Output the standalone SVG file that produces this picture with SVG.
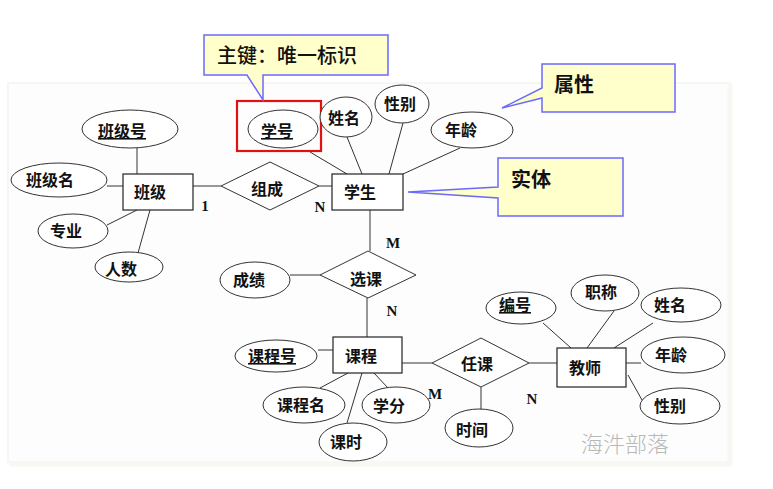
<svg xmlns="http://www.w3.org/2000/svg" width="773" height="489" viewBox="0 0 773 489">
<style>
.bg{fill:#ffffff}
.ent{fill:#ffffff;stroke:#222;stroke-width:1.2}
.att{fill:#ffffff;stroke:#333;stroke-width:1}
.rel{fill:#ffffff;stroke:#333;stroke-width:1}
.ln{stroke:#333;stroke-width:1;fill:none}
.t{font-family:"Noto Sans CJK SC","Noto Sans",sans-serif;font-weight:bold;font-size:16px;fill:#111;text-anchor:middle}
.u{text-decoration:underline}
.card{font-family:"Liberation Serif",serif;font-weight:bold;font-size:15px;fill:#111;text-anchor:middle}
.call{fill:#ffffcc;stroke:#6a6aff;stroke-width:1.5}
.ct{font-family:"Noto Sans CJK SC",sans-serif;font-size:20px;font-weight:500;fill:#111}
.ctb{font-family:"Noto Sans CJK SC",sans-serif;font-size:20px;font-weight:bold;fill:#111}
.wm{font-family:"Noto Sans CJK SC",sans-serif;font-weight:300;font-size:22px;fill:#b8b8b8;text-anchor:middle}
</style>
<rect class="bg" x="0" y="0" width="773" height="489"/>
<rect x="8" y="83" width="722" height="379" fill="#fdfdfd" stroke="#f4f4f0" stroke-width="1.5"/>
<path d="M730 84 V464 H9" fill="none" stroke="#f8f8f3" stroke-width="5"/>

<g id="connectors">
<line class="ln" x1="137" y1="148" x2="137" y2="174"/>
<line class="ln" x1="107" y1="186" x2="123" y2="186"/>
<line class="ln" x1="107" y1="225" x2="137" y2="210"/>
<line class="ln" x1="150" y1="210" x2="138" y2="253"/>
<line class="ln" x1="193" y1="186" x2="221" y2="186"/>
<line class="ln" x1="319" y1="186" x2="332" y2="186"/>
<line class="ln" x1="310" y1="152" x2="347" y2="174"/>
<line class="ln" x1="347" y1="137" x2="362" y2="174"/>
<line class="ln" x1="403" y1="123" x2="389" y2="174"/>
<line class="ln" x1="460" y1="148" x2="403" y2="174"/>
<line class="ln" x1="370" y1="210" x2="370" y2="251"/>
<line class="ln" x1="290" y1="275" x2="320" y2="275"/>
<line class="ln" x1="367" y1="298" x2="367" y2="337"/>
<line class="ln" x1="318" y1="350" x2="333" y2="350"/>
<line class="ln" x1="320" y1="388" x2="348" y2="373"/>
<line class="ln" x1="347" y1="423" x2="362" y2="373"/>
<line class="ln" x1="388" y1="388" x2="374" y2="373"/>
<line class="ln" x1="402" y1="363" x2="432" y2="363"/>
<line class="ln" x1="529" y1="363" x2="557" y2="363"/>
<line class="ln" x1="481" y1="387" x2="481" y2="410"/>
<line class="ln" x1="543" y1="323" x2="571" y2="348"/>
<line class="ln" x1="614" y1="311" x2="587" y2="348"/>
<line class="ln" x1="653" y1="323" x2="614" y2="348"/>
<line class="ln" x1="626" y1="363" x2="641" y2="363"/>
<line class="ln" x1="628" y1="375" x2="642" y2="400"/>
</g>

<g id="class">
<rect class="ent" x="123" y="174" width="70" height="36"/>
<text class="t" x="150" y="198">班级</text>
</g>
<g id="class-no">
<ellipse class="att" cx="130" cy="129" rx="48" ry="19"/>
<text class="t u" x="122" y="137">班级号</text>
</g>
<g id="class-name">
<ellipse class="att" cx="59" cy="180" rx="48" ry="17"/>
<text class="t" x="50" y="186">班级名</text>
</g>
<g id="major">
<ellipse class="att" cx="73" cy="231" rx="35" ry="17"/>
<text class="t" x="66" y="237">专业</text>
</g>
<g id="count">
<ellipse class="att" cx="129" cy="267" rx="34" ry="15"/>
<text class="t" x="121" y="275">人数</text>
</g>
<g id="compose">
<polygon class="rel" points="221,186 270,162 319,186 270,210"/>
<text class="t" x="267" y="195">组成</text>
</g>
<g id="student">
<rect class="ent" x="332" y="174" width="71" height="36"/>
<text class="t" x="360" y="198">学生</text>
</g>
<g id="sno">
<ellipse class="att" cx="283" cy="129" rx="35" ry="19"/>
<text class="t u" x="277" y="137">学号</text>
<rect x="237" y="101" width="84" height="50" fill="none" stroke="#e31010" stroke-width="2.2"/>
</g>
<g id="sname">
<ellipse class="att" cx="346" cy="117" rx="26" ry="20"/>
<text class="t" x="344" y="124">姓名</text>
</g>
<g id="ssex">
<ellipse class="att" cx="402" cy="104" rx="27" ry="19"/>
<text class="t" x="400" y="110">性别</text>
</g>
<g id="sage">
<ellipse class="att" cx="472" cy="130" rx="41" ry="18"/>
<text class="t" x="461" y="136">年龄</text>
</g>
<g id="select">
<polygon class="rel" points="320,275 368,251 416,275 368,298"/>
<text class="t" x="366" y="285">选课</text>
</g>
<g id="grade">
<ellipse class="att" cx="255" cy="280" rx="35" ry="18"/>
<text class="t" x="249" y="286">成绩</text>
</g>
<g id="course">
<rect class="ent" x="333" y="337" width="69" height="36"/>
<text class="t" x="361" y="362">课程</text>
</g>
<g id="cno">
<ellipse class="att" cx="276" cy="356" rx="41" ry="16"/>
<text class="t u" x="272" y="362">课程号</text>
</g>
<g id="cname">
<ellipse class="att" cx="304" cy="405" rx="41" ry="18"/>
<text class="t" x="301" y="411">课程名</text>
</g>
<g id="credit">
<ellipse class="att" cx="396" cy="405" rx="34" ry="18"/>
<text class="t" x="389" y="412">学分</text>
</g>
<g id="hours">
<ellipse class="att" cx="353" cy="442" rx="34" ry="19"/>
<text class="t" x="346" y="448">课时</text>
</g>
<g id="teach">
<polygon class="rel" points="432,363 481,338 529,363 481,387"/>
<text class="t" x="477" y="370">任课</text>
</g>
<g id="time">
<ellipse class="att" cx="479" cy="428" rx="34" ry="19"/>
<text class="t" x="472" y="436">时间</text>
</g>
<g id="teacher">
<rect class="ent" x="557" y="348" width="69" height="39"/>
<text class="t" x="585" y="374">教师</text>
</g>
<g id="tno">
<ellipse class="att" cx="521" cy="308" rx="35" ry="16"/>
<text class="t u" x="515" y="311">编号</text>
</g>
<g id="title">
<ellipse class="att" cx="605" cy="293" rx="34" ry="18"/>
<text class="t" x="601" y="298">职称</text>
</g>
<g id="tname">
<ellipse class="att" cx="681" cy="305" rx="40" ry="17"/>
<text class="t" x="670" y="311">姓名</text>
</g>
<g id="tage">
<ellipse class="att" cx="683" cy="355" rx="42" ry="18"/>
<text class="t" x="671" y="361">年龄</text>
</g>
<g id="tsex">
<ellipse class="att" cx="680" cy="406" rx="40" ry="18"/>
<text class="t" x="670" y="412">性别</text>
</g>

<g id="cardinalities">
<text class="card" x="205" y="211">1</text>
<text class="card" x="320" y="212">N</text>
<text class="card" x="393" y="248">M</text>
<text class="card" x="392" y="316">N</text>
<text class="card" x="435" y="399">M</text>
<text class="card" x="532" y="404">N</text>
</g>

<g id="callout-key">
<path class="call" d="M204 35 H388 V75 H263 V100 L247 75 H204 Z"/>
<text class="ct" x="217" y="63">主键：唯一标识</text>
</g>
<g id="callout-attr">
<path class="call" d="M542 64 H675 V112 H542 V98 L502 108 L542 88 Z"/>
<text class="ctb" x="554" y="92">属性</text>
</g>
<g id="callout-entity">
<path class="call" d="M498 158 H623 V216 H498 V198 L408 192 L498 187 Z"/>
<text class="ctb" x="511" y="187">实体</text>
</g>

<text class="wm" x="625" y="452">海汼部落</text>
</svg>
